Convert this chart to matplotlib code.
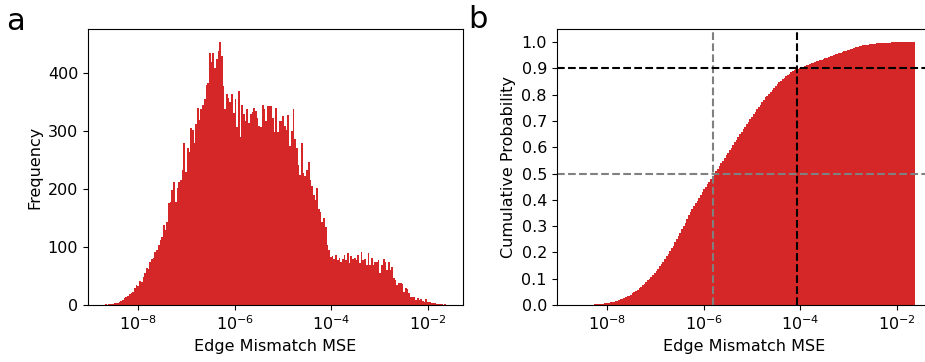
import numpy as np
import matplotlib
matplotlib.use('Agg')
import matplotlib.pyplot as plt

# log10 range of the histogram bins
bin_lo = -8.69
bin_hi = -1.63

# counts per log bin (200 bins)
counts = [
    1, 0, 1, 1, 2, 3, 4, 4, 5, 7, 8, 12, 13, 16, 19, 21, 23, 30, 35, 33,
    42, 40, 48, 55, 64, 62, 75, 80, 82, 92,
    95, 104, 112, 118, 138, 130, 144, 176, 178, 199, 213, 178, 202, 213, 216,
    234, 280, 230, 272, 265, 306, 303, 280, 312, 341, 320, 338, 346, 355,
    380, 384, 436, 420, 436, 410, 425, 438, 454, 430, 378, 338, 364, 358, 350,
    364, 332, 355, 308, 369, 291, 346, 330, 317, 338, 315, 330, 334, 341,
    335, 323, 310, 308, 346, 338, 317, 343, 343, 343, 323, 298, 341, 298, 318,
    318, 326, 310, 303, 329, 274, 300, 338, 286, 272, 242, 225, 280, 228,
    222, 234, 247, 216, 205, 190, 182, 202, 165, 161, 144, 150, 135, 104, 95,
    83, 84, 80, 86, 78, 82, 74, 80, 87, 78, 90, 72, 85, 80, 82,
    78, 87, 72, 92, 78, 80, 69, 90, 69, 81, 69, 75, 75, 78, 55,
    69, 80, 75, 61, 75, 61, 66, 47, 43, 35, 38, 38, 36, 23,
    29, 27, 21, 14, 14, 14, 9, 12, 9, 10, 7, 5, 10, 6, 5, 3, 4, 3, 2, 2,
    1, 1, 0, 1,
]

# median and 90th percentile markers
median_mse = 1.55e-6
p90_mse = 8.5e-5

plt.rcParams['font.size'] = 11.5
red = '#d62728'

edges = np.logspace(bin_lo, bin_hi, len(counts) + 1)
centers = np.sqrt(edges[:-1] * edges[1:])

fig = plt.figure(figsize=(9.25, 3.62), dpi=100)
ax1 = fig.add_axes([0.0951, 0.1575, 0.4054, 0.7624])
ax2 = fig.add_axes([0.6018, 0.1575, 0.4057, 0.7624])

# a: histogram
ax1.hist(centers, bins=edges, weights=counts, color=red)
ax1.set_xscale('log')
ax1.set_xlabel('Edge Mismatch MSE')
ax1.set_ylabel('Frequency')
ax1.minorticks_off()

# b: cumulative histogram
ax2.hist(centers, bins=edges, weights=counts, color=red, cumulative=True, density=True)
ax2.set_xscale('log')
ax2.set_xlim(ax1.get_xlim())
ax2.set_ylim(0, 1.05)
ax2.set_yticks(np.arange(0, 1.01, 0.1))
ax2.axhline(0.5, color='gray', ls='--', lw=1.5)
ax2.axvline(median_mse, color='gray', ls='--', lw=1.5)
ax2.axhline(0.9, color='black', ls='--', lw=1.5)
ax2.axvline(p90_mse, color='black', ls='--', lw=1.5)
ax2.set_xlabel('Edge Mismatch MSE')
ax2.set_ylabel('Cumulative Probability')
ax2.minorticks_off()

fig.text(0.007, 0.917, 'a', fontsize=22, va='baseline')
fig.text(0.506, 0.922, 'b', fontsize=22, va='baseline')

fig.savefig('out.png', dpi=100)
